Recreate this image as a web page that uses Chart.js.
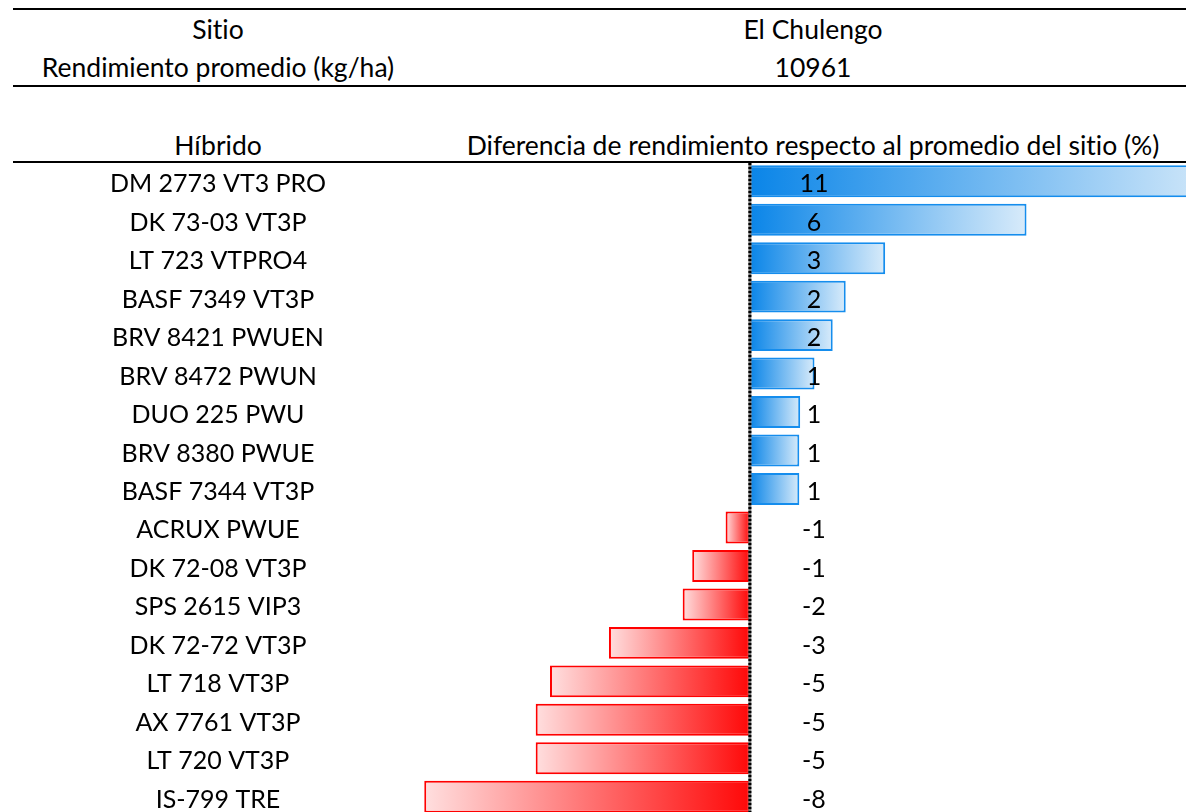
<!DOCTYPE html>
<html lang="es">
<head>
<meta charset="utf-8">
<title>Diferencia de rendimiento - El Chulengo</title>
<script src="https://cdn.jsdelivr.net/npm/chart.js@4/dist/chart.umd.min.js"></script>
<style>
    html, body { margin: 0; padding: 0; background: #fff; overflow: hidden; }
    body { width: 1186px; height: 812px; position: relative; font-family: Lato, "Open Sans", sans-serif; color: #000; }
    .rule { position: absolute; left: 13px; right: 0; height: 2px; background: #000; z-index: 2; }
    .cell { position: absolute; font-size: 26.5px; line-height: 30px; height: 30px; text-align: center; white-space: nowrap; font-variant-ligatures: none; }
    .izq { left: -82px; width: 600px; }
    .der { left: 413px; width: 800px; }
    #wrap { position: absolute; left: 0; top: 162px; width: 1186px; height: 654px; }
</style>
</head>
<body>
<div class="rule" style="top:8px"></div>
<div class="cell izq" style="top:14px">Sitio</div>
<div class="cell der" style="top:14px">El Chulengo</div>
<div class="cell izq" style="top:52px">Rendimiento promedio (kg/ha)</div>
<div class="cell der" style="top:52px">10961</div>
<div class="rule" style="top:85px"></div>
<div class="cell izq" style="top:130px">Híbrido</div>
<div class="cell der" style="top:130px">Diferencia de rendimiento respecto al promedio del sitio (%)</div>
<div class="rule" style="top:161px"></div>

<div id="wrap"><canvas id="grafico"></canvas></div>

<script>
// híbridos, de arriba hacia abajo
const hibridos = [
    'DM 2773 VT3 PRO', 'DK 73-03 VT3P', 'LT 723 VTPRO4', 'BASF 7349 VT3P',
    'BRV 8421 PWUEN', 'BRV 8472 PWUN', 'DUO 225 PWU', 'BRV 8380 PWUE',
    'BASF 7344 VT3P', 'ACRUX PWUE', 'DK 72-08 VT3P', 'SPS 2615 VIP3',
    'DK 72-72 VT3P', 'LT 718 VT3P', 'AX 7761 VT3P', 'LT 720 VT3P', 'IS-799 TRE'
];
// diferencia respecto al promedio del sitio (%)
const diferencia = [
    11.0, 6.38, 3.12, 2.21, 1.91, 1.49, 1.16, 1.14, 1.14,
    -0.56, -1.33, -1.55, -3.25, -4.61, -4.94, -4.94, -7.51
];
const ejeMin = -8;
const ejeMax = 10.058;

const FUENTE = '25px Lato, "Open Sans", sans-serif';

function relleno(context) {
    const chart = context.chart;
    const x = chart.scales.x;
    const v = context.raw;
    if (!x || v === undefined) return '#0a85e8';
    const x0 = x.getPixelForValue(0);
    const x1 = x.getPixelForValue(v);
    if (!isFinite(x0) || !isFinite(x1) || x0 === x1) return v >= 0 ? '#0a85e8' : '#ff0808';
    const g = chart.ctx.createLinearGradient(x0, 0, x1, 0);
    if (v >= 0) {
        g.addColorStop(0, '#0a85e8');
        g.addColorStop(1, '#d8ebfa');
    } else {
        g.addColorStop(0, '#ff0808');
        g.addColorStop(1, '#ffdfdf');
    }
    return g;
}

// linea del cero punteada + etiquetas de hibridos y valores
const extras = {
    id: 'extras',
    afterDatasetsDraw(chart) {
        const ctx = chart.ctx;
        const x = chart.scales.x;
        const y = chart.scales.y;
        const x0 = x.getPixelForValue(0);

        ctx.save();
        ctx.lineWidth = 3;
        ctx.strokeStyle = '#777';
        ctx.beginPath();
        ctx.moveTo(x0, chart.chartArea.top + 1);
        ctx.lineTo(x0, chart.height);
        ctx.stroke();
        ctx.strokeStyle = '#000';
        ctx.setLineDash([2, 2]);
        ctx.stroke();
        ctx.setLineDash([]);

        ctx.font = FUENTE;
        ctx.fillStyle = '#000';
        ctx.textAlign = 'center';
        ctx.textBaseline = 'alphabetic';
        hibridos.forEach((h, i) => {
            const py = y.getPixelForValue(i) + 11;
            ctx.fillText(h, 218, py);
            ctx.fillText(Math.round(diferencia[i]).toString(), x0 + 64, py);
        });
        ctx.restore();
    }
};

new Chart(document.getElementById('grafico'), {
    type: 'bar',
    data: {
        labels: hibridos,
        datasets: [{
            data: diferencia,
            backgroundColor: relleno,
            borderColor: ctx => (ctx.raw >= 0 ? '#158ded' : '#ff0000'),
            borderWidth: 2,
            borderSkipped: false,
            barPercentage: 0.83,
            categoryPercentage: 1,
            clip: 0
        }]
    },
    options: {
        indexAxis: 'y',
        responsive: true,
        maintainAspectRatio: false,
        animation: false,
        layout: { padding: { left: 403, right: 0, top: 0, bottom: 0 } },
        scales: {
            x: { display: false, min: ejeMin, max: ejeMax },
            y: { display: false }
        },
        plugins: {
            legend: { display: false },
            tooltip: { enabled: false }
        }
    },
    plugins: [extras]
});
</script>
</body>
</html>
